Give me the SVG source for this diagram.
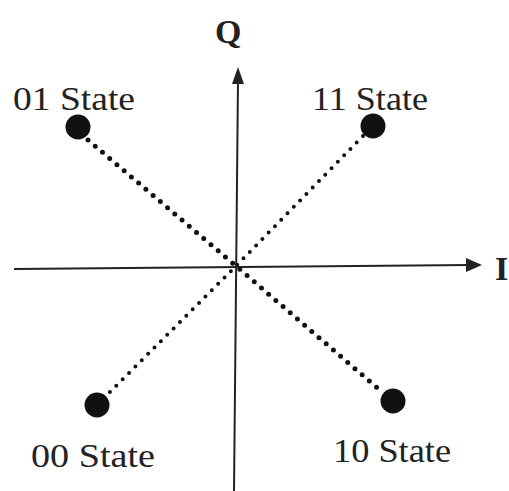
<svg xmlns="http://www.w3.org/2000/svg" width="509" height="491" viewBox="0 0 509 491">
<style>
.lbl{font-family:"Liberation Serif",serif;font-size:34px;fill:#222}
.ax{stroke:#222;stroke-width:2;fill:none}
.dot{fill:#111}
.d1{stroke:#111;stroke-width:5;stroke-linecap:round;stroke-dasharray:0 9.5;fill:none}
.d2{stroke:#111;stroke-width:4;stroke-linecap:round;stroke-dasharray:0 9;fill:none}
</style>
<rect width="509" height="491" fill="#fff"/>
<g id="connectors">
<line class="ax" x1="14" y1="269" x2="470" y2="265"/>
<path d="M466,258 L482,265 L466,272 z" fill="#222"/>
<line class="ax" x1="234" y1="491" x2="238" y2="80"/>
<path d="M232,84 L238,67 L244,84 z" fill="#222"/>
<path class="d1" d="M88,140 L236,266 L382,392"/>
<path class="d2" d="M363,136 L236,266 L107,395"/>
</g>
<g id="axisQ"><text class="lbl" x="215" y="43" font-weight="bold" font-size="30">Q</text></g>
<g id="axisI"><text class="lbl" x="495" y="280" font-weight="bold" font-size="30">I</text></g>
<g id="s01"><circle class="dot" cx="78" cy="127" r="12.5"/><text class="lbl" x="13" y="110" textLength="122" lengthAdjust="spacingAndGlyphs">01 State</text></g>
<g id="s11"><circle class="dot" cx="373" cy="126" r="12.5"/><text class="lbl" x="312" y="110" textLength="116" lengthAdjust="spacingAndGlyphs">11 State</text></g>
<g id="s00"><circle class="dot" cx="97" cy="405" r="12.5"/><text class="lbl" x="31" y="467" textLength="124" lengthAdjust="spacingAndGlyphs">00 State</text></g>
<g id="s10"><circle class="dot" cx="393" cy="401" r="12.5"/><text class="lbl" x="333" y="462" textLength="118" lengthAdjust="spacingAndGlyphs">10 State</text></g>
</svg>
